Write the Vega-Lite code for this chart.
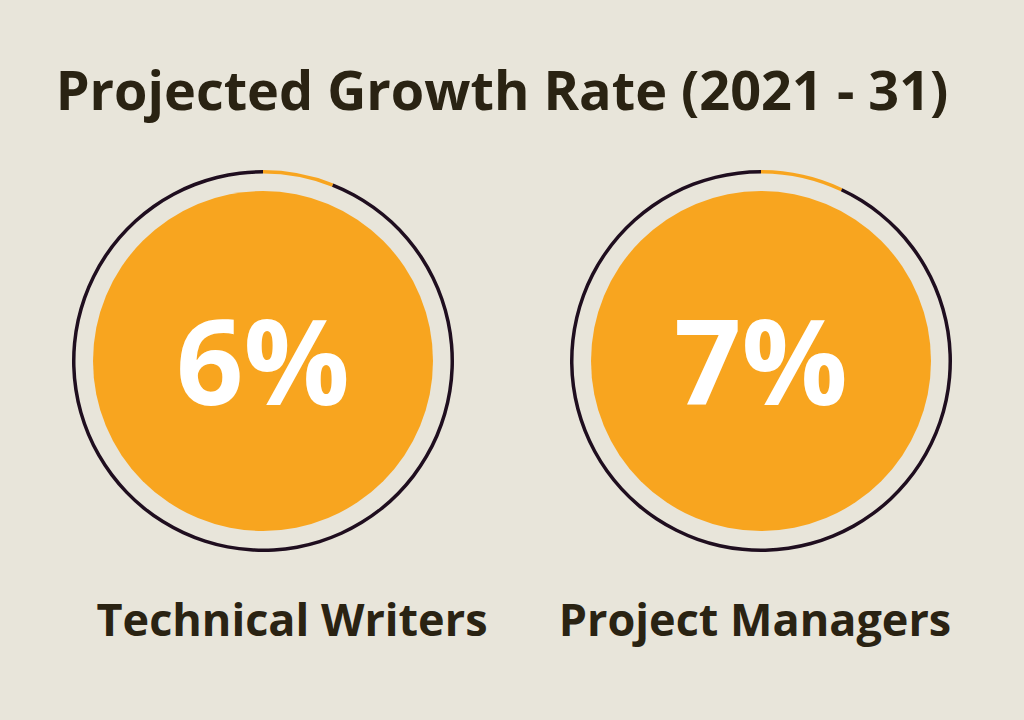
{
  "$schema": "https://vega.github.io/schema/vega-lite/v6.json",
  "background": "#e8e5da",
  "padding": {"left": 14, "top": 67, "right": 14, "bottom": 80},
  "title": {
    "text": "Projected Growth Rate (2021 - 31)",
    "font": "Open Sans",
    "fontSize": 54,
    "fontWeight": "bold",
    "color": "#2a2313",
    "anchor": "middle",
    "dx": -10,
    "offset": 40
  },
  "data": {
    "values": [
      {"job": "Technical Writers", "part": "growth", "share": 0.06},
      {"job": "Technical Writers", "part": "rest", "share": 0.94},
      {"job": "Project Managers", "part": "growth", "share": 0.07},
      {"job": "Project Managers", "part": "rest", "share": 0.93}
    ]
  },
  "facet": {
    "column": {
      "field": "job",
      "type": "nominal",
      "sort": ["Technical Writers", "Project Managers"],
      "title": null,
      "header": null
    }
  },
  "spacing": 0,
  "spec": {
    "width": 498,
    "height": 400,
    "layer": [
      {
        "mark": {"type": "arc", "outerRadius": 191, "innerRadius": 187.5},
        "encoding": {
          "theta": {"field": "share", "type": "quantitative", "stack": true},
          "color": {
            "field": "part",
            "type": "nominal",
            "scale": {"domain": ["growth", "rest"], "range": ["#f8a51f", "#1f0e1f"]},
            "legend": null
          },
          "order": {"field": "part", "sort": "ascending"}
        }
      },
      {
        "transform": [{"filter": "datum.part === 'growth'"}],
        "mark": {"type": "point", "shape": "circle", "filled": true, "size": 115600, "color": "#f8a51f", "opacity": 1, "strokeWidth": 0},
        "encoding": {}
      },
      {
        "transform": [{"filter": "datum.part === 'growth'"}],
        "mark": {"type": "text", "font": "Open Sans", "fontSize": 118, "fontWeight": "bold", "color": "#ffffff", "align": "center", "baseline": "alphabetic", "dy": 44},
        "encoding": {
          "text": {"field": "share", "type": "quantitative", "format": ".0%"}
        }
      },
      {
        "transform": [{"filter": "datum.part === 'growth'"}],
        "mark": {"type": "text", "font": "Open Sans", "fontSize": 45, "fontWeight": "bold", "color": "#2a2313", "align": "center", "baseline": "alphabetic", "dy": 275, "dx": {"expr": "datum.job === 'Technical Writers' ? 29 : -6"}},
        "encoding": {
          "text": {"field": "job", "type": "nominal"}
        }
      }
    ]
  },
  "config": {
    "view": {"stroke": null}
  }
}
